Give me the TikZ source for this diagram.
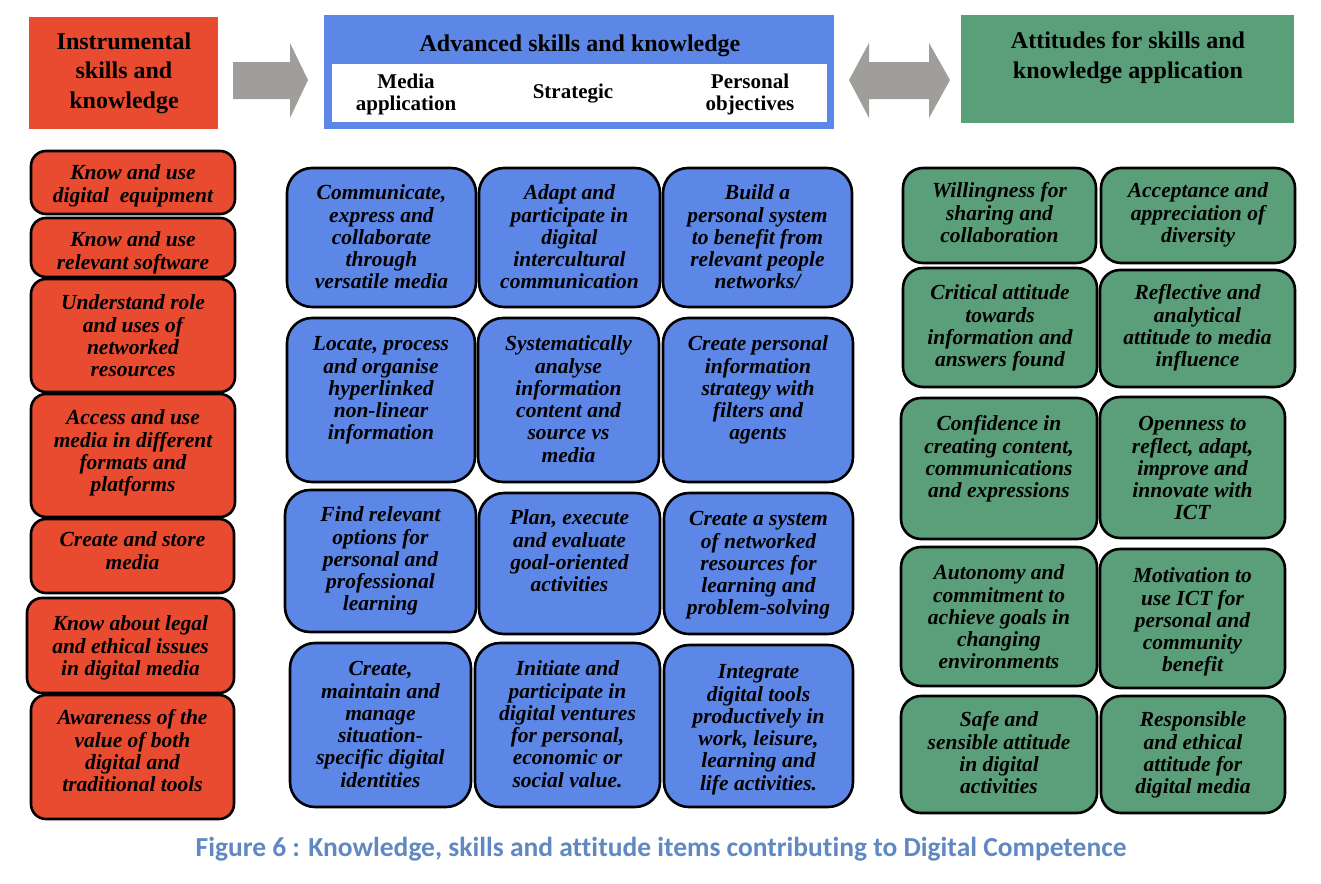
\documentclass[tikz,border=0pt]{standalone}
\usepackage{fontspec}
\setmainfont{Liberation Serif}
\newfontfamily\capfont[Ligatures=NoCommon]{Carlito}
\definecolor{rfill}{RGB}{233,75,49}
\definecolor{bfill}{RGB}{93,135,230}
\definecolor{gfill}{RGB}{91,158,122}
\definecolor{afill}{RGB}{160,158,155}
\definecolor{capc}{RGB}{96,137,194}
\newcommand{\fl}{\rule{0pt}{15.5pt}}
% style, name, x1, y1, x2, y2, first-line y, text
\newcommand{\itembox}[8]{%
  \node[#1, minimum width={#5-#3}, minimum height={#6-#4}] (#2) at ({(#3+#5)/2},{(#4+#6)/2}) {};
  \node[itxt, anchor=north] (#2t) at ({(#3+#5)/2},{#7-8}) {\fl #8};
}
\begin{document}
\begin{tikzpicture}[x=1pt,y=-1pt,
  boxbase/.style={draw=black, line width=2.6pt, inner sep=0pt, outer sep=0pt},
  rbox/.style={boxbase, fill=rfill, rounded corners=15pt},
  bbox/.style={boxbase, fill=bfill, rounded corners=25pt},
  gbox/.style={boxbase, fill=gfill, rounded corners=20pt},
  itxt/.style={inner sep=0pt, align=center, font=\bfseries\itshape\fontsize{21.5}{22.3}\selectfont},
  htxt/.style={inner sep=0pt, align=center, font=\bfseries\fontsize{24}{29.5}\selectfont},
  stxt/.style={inner sep=0pt, align=center, font=\bfseries\fontsize{21}{22}\selectfont},
  barrow/.style={fill=afill, draw=none}]
\useasboundingbox (0,0) rectangle (1321,883);
\fill[white] (0,0) rectangle (1321,883);

% ---- headers ----
\node[fill=rfill, minimum width=189, minimum height=112, inner sep=0pt, outer sep=0pt] (H1) at (123.5,73) {};
\node[htxt] (H1t) at (124,73) {Instrumental\\skills and\\knowledge};

\node[fill=bfill, minimum width=510, minimum height=114, inner sep=0pt, outer sep=0pt] (H2) at (579,72) {};
\node[htxt] (H2t) at (580,46) {Advanced skills and knowledge};
\node[fill=white, minimum width=495, minimum height=58, inner sep=0pt, outer sep=0pt] (H2w) at (579.5,93) {};
\node[stxt] (S1) at (406,94) {Media\\application};
\node[stxt] (S2) at (573,94) {Strategic};
\node[stxt] (S3) at (750,94) {Personal\\objectives};

\node[fill=gfill, minimum width=333, minimum height=108, inner sep=0pt, outer sep=0pt] (H3) at (1127.5,69) {};
\node[htxt] (H3t) at (1128,57.5) {Attitudes for skills and\\knowledge application};

% ---- block arrows ----
\fill[barrow] (233,62) -- (290,62) -- (290,43) -- (308,80) -- (290,118) -- (290,99) -- (233,99) -- cycle;
\fill[barrow] (849,80) -- (869,43) -- (869,62) -- (929,62) -- (929,43) -- (950,80) -- (929,118) -- (929,99) -- (869,99) -- (869,118) -- cycle;

% ---- left column ----
\itembox{rbox}{L1}{31}{151}{235}{214}{172}{Know and use\\digital~~equipment}
\itembox{rbox}{L2}{31}{218}{235}{277}{239}{Know and use\\relevant software}
\itembox{rbox}{L3}{31}{279}{235}{392}{302}{Understand role\\and uses of\\networked\\resources}
\itembox{rbox}{L4}{31}{394}{235}{517}{417}{Access and use\\media in different\\formats and\\platforms}
\itembox{rbox}{L5}{31}{519}{234}{593}{539}{Create and store\\media}
\itembox{rbox}{L6}{27}{598}{234}{693}{623}{Know about legal\\and ethical issues\\in digital media}
\itembox{rbox}{L7}{31}{695}{234}{819}{717}{Awareness of the\\value of both\\digital and\\traditional tools}

% ---- middle grid ----
\itembox{bbox}{M11}{287}{168}{476}{307}{192}{Communicate,\\express and\\collaborate\\through\\versatile media}
\itembox{bbox}{M12}{479}{168}{660}{307}{192}{Adapt and\\participate in\\digital\\intercultural\\communication}
\itembox{bbox}{M13}{663}{168}{852}{307}{192}{Build a\\personal system\\to benefit from\\relevant people\\networks/}
\itembox{bbox}{M21}{287}{318}{475}{482}{343}{Locate, process\\and organise\\hyperlinked\\non-linear\\information}
\itembox{bbox}{M22}{478}{318}{659}{482}{343}{Systematically\\analyse\\information\\content and\\source vs\\media}
\itembox{bbox}{M23}{663}{318}{853}{482}{343}{Create personal\\information\\strategy with\\filters and\\agents}
\itembox{bbox}{M31}{285}{490}{476}{632}{514}{Find relevant\\options for\\personal and\\professional\\learning}
\itembox{bbox}{M32}{479}{493}{660}{634}{517}{Plan, execute\\and evaluate\\goal-oriented\\activities}
\itembox{bbox}{M33}{664}{493}{853}{634}{518}{Create a system\\of networked\\resources for\\learning and\\problem-solving}
\itembox{bbox}{M41}{290}{643}{471}{807}{668}{Create,\\maintain and\\manage\\situation-\\specific digital\\identities}
\itembox{bbox}{M42}{475}{643}{660}{807}{668}{Initiate and\\participate in\\digital ventures\\for personal,\\economic or\\social value.}
\itembox{bbox}{M43}{664}{645}{853}{807}{671}{Integrate\\digital tools\\productively in\\work, leisure,\\learning and\\life activities.}

% ---- right grid ----
\itembox{gbox}{G11}{903}{168}{1096}{263}{190}{Willingness for\\sharing and\\collaboration}
\itembox{gbox}{G12}{1101}{168}{1295}{263}{190}{Acceptance and\\appreciation of\\diversity}
\itembox{gbox}{G21}{903}{268}{1097}{387}{292}{Critical attitude\\towards\\information and\\answers found}
\itembox{gbox}{G22}{1100}{270}{1295}{387}{292}{Reflective and\\analytical\\attitude to media\\influence}
\itembox{gbox}{G31}{901}{398}{1097}{539}{423}{Confidence in\\creating content,\\communications\\and expressions}
\itembox{gbox}{G32}{1100}{397}{1285}{538}{423}{Openness to\\reflect, adapt,\\improve and\\innovate with\\ICT}
\itembox{gbox}{G41}{901}{547}{1097}{686}{572}{Autonomy and\\commitment to\\achieve goals in\\changing\\environments}
\itembox{gbox}{G42}{1100}{549}{1285}{688}{575}{Motivation to\\use ICT for\\personal and\\community\\benefit}
\itembox{gbox}{G51}{901}{696}{1097}{813}{719}{Safe and\\sensible attitude\\in digital\\activities}
\itembox{gbox}{G52}{1101}{696}{1285}{813}{719}{Responsible\\and ethical\\attitude for\\digital media}

% ---- caption ----
\node[inner sep=0pt, anchor=base, text=capc, font=\capfont\bfseries\fontsize{27.5}{30}\selectfont] (cap) at (661,856) {Figure 6 : Knowledge, skills and attitude items contributing to Digital Competence};
\end{tikzpicture}
\end{document}
